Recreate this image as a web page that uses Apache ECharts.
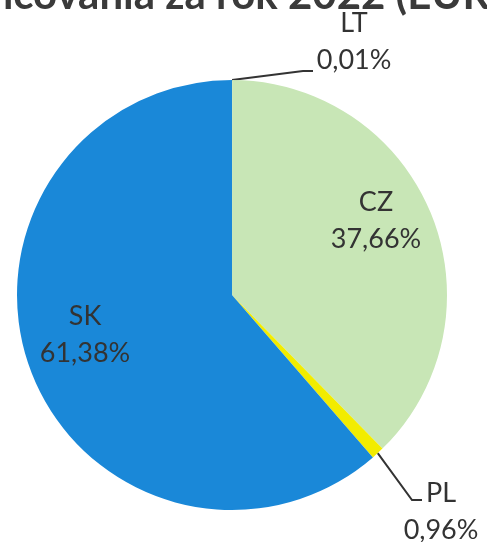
<!DOCTYPE html>
<html>
<head>
<meta charset="utf-8">
<script src="https://cdn.jsdelivr.net/npm/echarts@6/dist/echarts.min.js"></script>
<style>
html,body{margin:0;padding:0;background:#fff;}
#chart{width:487px;height:542px;}
</style>
</head>
<body>
<div id="chart"></div>
<script>
// Data
var categories = ['LT', 'CZ', 'PL', 'SK'];
var shares = [0.01, 37.66, 0.96, 61.38];
var colors = ['#5b8fd0', '#c8e6b6', '#f2ec00', '#1a88d8'];
var titleText = 'Podiel financovania za rok 2022 (EUR)';

// label layout (label centres) and leader-line bend/end points
var labelPos = [[354, 42], [376, 221], [441, 512], [85, 335]];
var outside = [true, false, true, false];
var leaderBend = { 0: [[303, 71], [313, 71]], 2: [[412, 500], [422, 500]] };

var chart = echarts.init(document.getElementById('chart'));
var data = categories.map(function (c, i) {
  return {
    name: c,
    value: shares[i],
    itemStyle: { color: colors[i] },
    label: { position: outside[i] ? 'outside' : 'inside' },
    labelLine: { show: outside[i] }
  };
});

chart.setOption({
  animation: false,
  graphic: [{
    type: 'text',
    z: -10,
    style: {
      x: 501,
      y: 16,
      text: titleText,
      textAlign: 'right',
      textVerticalAlign: 'bottom',
      font: 'bold 42px Lato',
      fill: '#3a3a3a'
    }
  }],
  series: [{
    type: 'pie',
    z: 5,
    center: [232, 295],
    radius: [0, 215],
    startAngle: 90,
    clockwise: true,
    data: data,
    label: {
      show: true,
      fontFamily: 'Lato',
      fontSize: 27,
      lineHeight: 37,
      color: '#333333',
      align: 'center',
      overflow: 'none',
      formatter: function (p) {
        return p.name + '\n' + p.value.toFixed(2).replace('.', ',') + '%';
      }
    },
    labelLine: {
      show: true,
      lineStyle: { color: '#333333', width: 2 }
    },
    labelLayout: function (p) {
      var pos = labelPos[p.dataIndex];
      var res = { x: pos[0], y: pos[1], align: 'center', verticalAlign: 'middle' };
      var bend = leaderBend[p.dataIndex];
      if (bend && p.labelLinePoints) {
        res.labelLinePoints = [p.labelLinePoints[0], bend[0], bend[1]];
      }
      return res;
    }
  }]
});
</script>
</body>
</html>
